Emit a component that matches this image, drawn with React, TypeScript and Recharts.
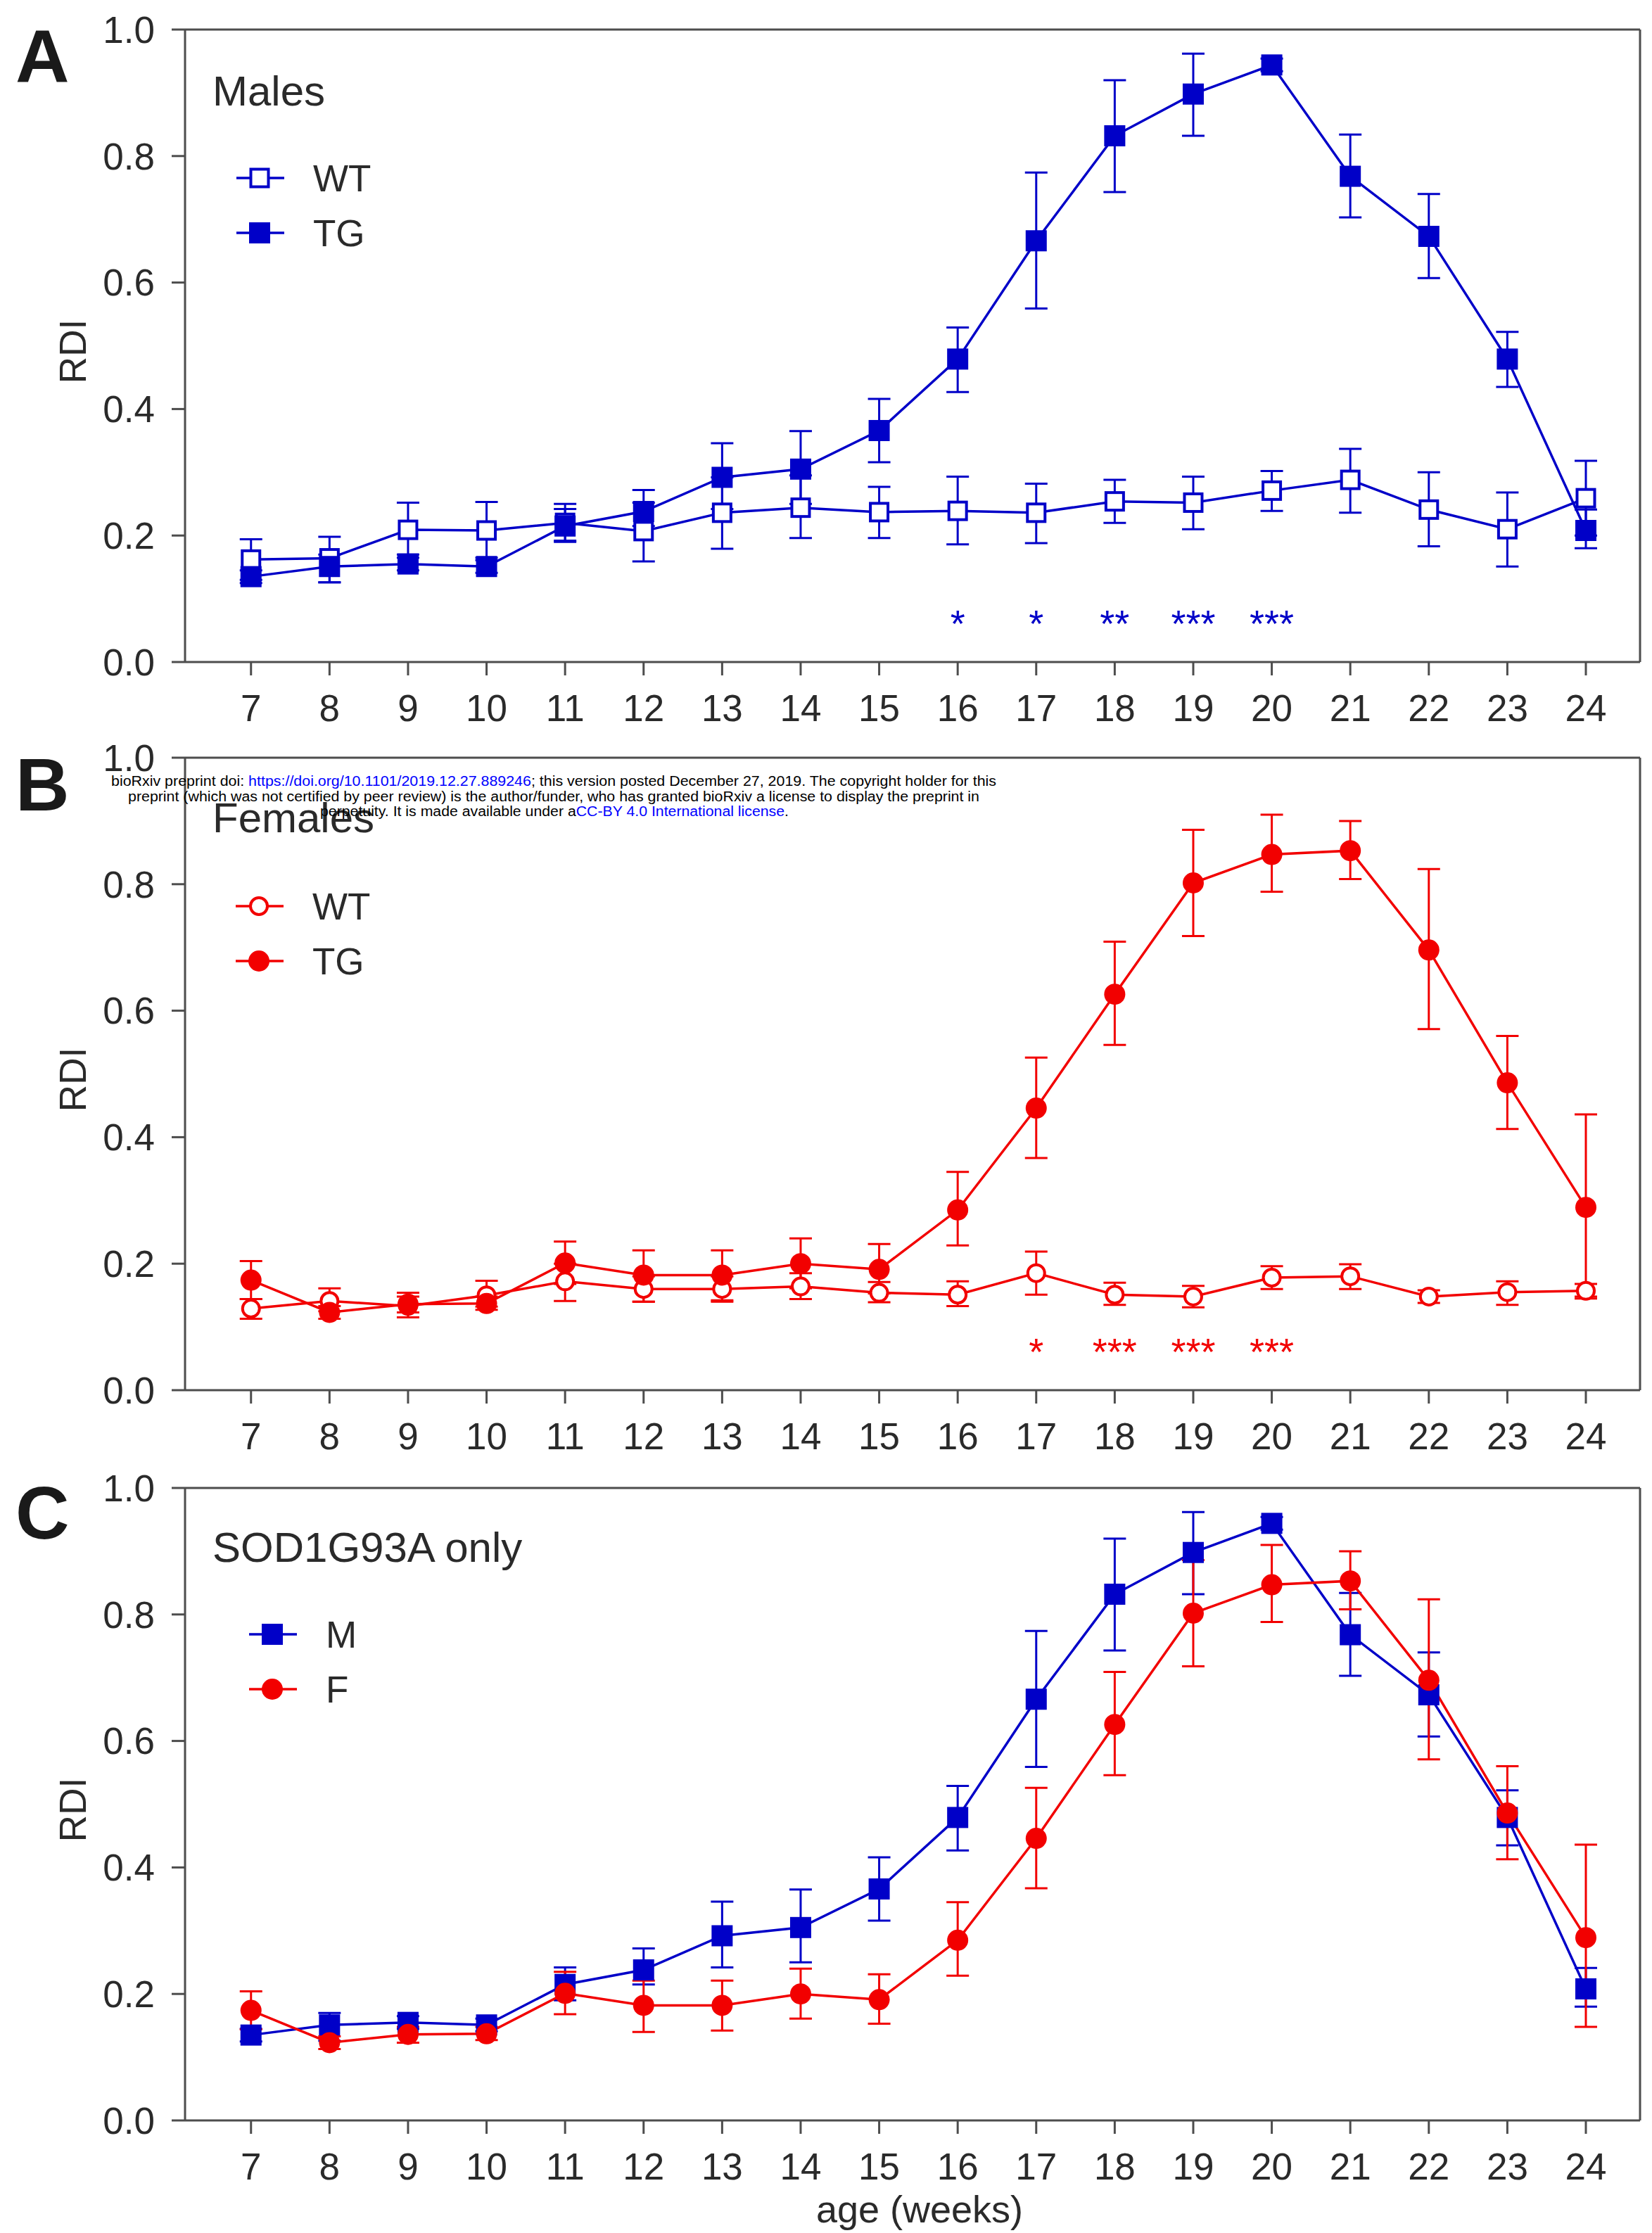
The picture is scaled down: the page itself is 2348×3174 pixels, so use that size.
import React from 'react';
import { ComposedChart, Line, Scatter, XAxis, YAxis, ErrorBar, ReferenceLine, Legend, Label } from 'recharts';

const BLUE = '#0000c8';
const RED = '#f20000';
const AXIS = '#4d4d4d';
const INK = '#2a2a2a';
const FONT = '"Liberation Sans", Arial, Helvetica, sans-serif';

const weeks = [7, 8, 9, 10, 11, 12, 13, 14, 15, 16, 17, 18, 19, 20, 21, 22, 23, 24];
const yTicks = [0, 0.2, 0.4, 0.6, 0.8, 1.0];

// males
const maleWT = [0.162, 0.164, 0.209, 0.208, 0.220, 0.207, 0.236, 0.244, 0.237, 0.239, 0.236, 0.254, 0.252, 0.271, 0.288, 0.241, 0.210, 0.259];
const maleWTLow = [0.130, 0.126, 0.170, 0.165, 0.192, 0.159, 0.179, 0.196, 0.196, 0.186, 0.188, 0.220, 0.210, 0.239, 0.236, 0.183, 0.151, 0.200];
const maleWTHigh = [0.194, 0.198, 0.252, 0.253, 0.250, 0.252, 0.292, 0.295, 0.277, 0.293, 0.282, 0.288, 0.293, 0.302, 0.337, 0.300, 0.268, 0.318];
const maleTG = [0.135, 0.151, 0.155, 0.151, 0.215, 0.238, 0.292, 0.305, 0.366, 0.479, 0.666, 0.832, 0.898, 0.944, 0.768, 0.673, 0.479, 0.208];
const maleTGLow = [0.125, 0.126, 0.145, 0.141, 0.190, 0.215, 0.242, 0.250, 0.316, 0.427, 0.559, 0.743, 0.832, 0.934, 0.703, 0.607, 0.435, 0.180];
const maleTGHigh = [0.145, 0.170, 0.165, 0.161, 0.242, 0.272, 0.346, 0.365, 0.416, 0.529, 0.774, 0.920, 0.962, 0.954, 0.834, 0.740, 0.522, 0.241];

// females
const femaleWT = [0.129, 0.141, 0.133, 0.150, 0.172, 0.160, 0.160, 0.164, 0.154, 0.151, 0.185, 0.151, 0.148, 0.178, 0.180, 0.148, 0.155, 0.157];
const femaleWTLow = [0.113, 0.125, 0.115, 0.132, 0.141, 0.140, 0.140, 0.144, 0.139, 0.133, 0.151, 0.135, 0.131, 0.160, 0.160, 0.138, 0.135, 0.145];
const femaleWTHigh = [0.144, 0.161, 0.154, 0.173, 0.200, 0.180, 0.180, 0.185, 0.171, 0.172, 0.219, 0.170, 0.165, 0.196, 0.199, 0.158, 0.172, 0.168];
const femaleTG = [0.174, 0.123, 0.136, 0.137, 0.201, 0.182, 0.182, 0.200, 0.191, 0.285, 0.446, 0.626, 0.802, 0.847, 0.853, 0.696, 0.486, 0.289];
const femaleTGLow = [0.144, 0.113, 0.123, 0.127, 0.168, 0.140, 0.142, 0.161, 0.153, 0.229, 0.367, 0.546, 0.718, 0.788, 0.808, 0.571, 0.413, 0.148];
const femaleTGHigh = [0.204, 0.133, 0.148, 0.148, 0.235, 0.221, 0.221, 0.240, 0.231, 0.345, 0.526, 0.709, 0.886, 0.910, 0.900, 0.824, 0.560, 0.436];

// significance marks
const starWeeksA = [16, 17, 18, 19, 20];
const starTextA = ['*', '*', '**', '***', '***'];
const starWeeksB = [17, 18, 19, 20];
const starTextB = ['*', '***', '***', '***'];
const STAR_LEVEL = 0.075;

const X_DOMAIN: [number, number] = [6.16, 24.69];

type Kind = 'sqOpen' | 'sqFill' | 'ciOpen' | 'ciFill';

const Marker = ({ cx, cy, kind, color }: { cx?: number; cy?: number; kind: Kind; color: string }) => {
  if (cx == null || cy == null) return null;
  if (kind === 'sqOpen') return <rect x={cx - 12.5} y={cy - 12.5} width={25} height={25} fill="#fff" stroke={color} strokeWidth={4} />;
  if (kind === 'sqFill') return <rect x={cx - 15} y={cy - 15} width={30} height={30} fill={color} />;
  if (kind === 'ciOpen') return <circle cx={cx} cy={cy} r={12} fill="#fff" stroke={color} strokeWidth={4} />;
  return <circle cx={cx} cy={cy} r={15} fill={color} />;
};

const errs = (v: number[], lo: number[], hi: number[]) =>
  v.map((y, i) => [+(y - lo[i]).toFixed(3), +(hi[i] - y).toFixed(3)]);

function buildRows(a: number[], aLo: number[], aHi: number[], b: number[], bLo: number[], bHi: number[]) {
  const ea = errs(a, aLo, aHi);
  const eb = errs(b, bLo, bHi);
  return weeks.map((w, i) => ({ week: w, a: a[i], aErr: ea[i], b: b[i], bErr: eb[i] }));
}

const starRows = (ws: number[], txt: string[]) => ws.map((w, i) => ({ week: w, level: STAR_LEVEL, s: txt[i] }));

interface SeriesCfg { key: 'a' | 'b'; name: string; kind: Kind; color: string }

interface PanelCfg {
  top: number;
  height: number;
  xAxisHeight: number;
  rows: any[];
  series: SeriesCfg[];
  stars?: { week: number; level: number; s: string }[];
  starColor?: string;
  legendLeft: number;
  legendTop: number;
  xLabel?: boolean;
}

const panels: PanelCfg[] = [
  {
    top: 0, height: 1060, xAxisHeight: 119,
    rows: buildRows(maleWT, maleWTLow, maleWTHigh, maleTG, maleTGLow, maleTGHigh),
    series: [
      { key: 'a', name: 'WT', kind: 'sqOpen', color: BLUE },
      { key: 'b', name: 'TG', kind: 'sqFill', color: BLUE },
    ],
    stars: starRows(starWeeksA, starTextA), starColor: BLUE,
    legendLeft: 336, legendTop: 214,
  },
  {
    top: 1035, height: 1060, xAxisHeight: 119,
    rows: buildRows(femaleWT, femaleWTLow, femaleWTHigh, femaleTG, femaleTGLow, femaleTGHigh),
    series: [
      { key: 'a', name: 'WT', kind: 'ciOpen', color: RED },
      { key: 'b', name: 'TG', kind: 'ciFill', color: RED },
    ],
    stars: starRows(starWeeksB, starTextB), starColor: RED,
    legendLeft: 335, legendTop: 214,
  },
  {
    top: 2073, height: 1101, xAxisHeight: 160,
    rows: buildRows(maleTG, maleTGLow, maleTGHigh, femaleTG, femaleTGLow, femaleTGHigh),
    series: [
      { key: 'a', name: 'M', kind: 'sqFill', color: BLUE },
      { key: 'b', name: 'F', kind: 'ciFill', color: RED },
    ],
    legendLeft: 354, legendTop: 211,
    xLabel: true,
  },
];

const LegendBox = ({ series }: { series: SeriesCfg[] }) => (
  <div>
    {series.map((s) => (
      <div key={s.name} style={{ display: 'flex', alignItems: 'center', height: 78 }}>
        <svg width={68} height={40} style={{ display: 'block' }}>
          <line x1={0} x2={68} y1={20} y2={20} stroke={s.color} strokeWidth={3.5} />
          <Marker cx={33} cy={20} kind={s.kind} color={s.color} />
        </svg>
        <span style={{ marginLeft: 41, fontSize: 53, fontFamily: FONT, color: INK, lineHeight: 1 }}>{s.name}</span>
      </div>
    ))}
  </div>
);

const tickStyle = { fill: INK, fontSize: 53, fontFamily: FONT };

function Panel({ cfg }: { cfg: PanelCfg }) {
  return (
    <div style={{ position: 'absolute', left: 0, top: cfg.top, width: 2348, height: cfg.height }}>
      <ComposedChart width={2348} height={cfg.height} data={cfg.rows} margin={{ top: 42, right: 17, left: 0, bottom: 0 }}>
        <XAxis
          dataKey="week" type="number" domain={X_DOMAIN} ticks={weeks} allowDataOverflow
          height={cfg.xAxisHeight} tickSize={19} tickMargin={27} interval={0}
          axisLine={{ stroke: AXIS, strokeWidth: 3 }} tickLine={{ stroke: AXIS, strokeWidth: 3 }} tick={tickStyle}
        >
          {cfg.xLabel && (
            <Label
              content={({ viewBox }: any) => (
                <text x={1307} y={viewBox.y + 145} textAnchor="middle" fontSize={54} fontFamily={FONT} fill={INK}>age (weeks)</text>
              )}
            />
          )}
        </XAxis>
        <YAxis
          type="number" domain={[0, 1]} ticks={yTicks} allowDataOverflow width={263}
          tickSize={19} tickMargin={24} tickFormatter={(v: number) => v.toFixed(1)}
          axisLine={{ stroke: AXIS, strokeWidth: 3 }} tickLine={{ stroke: AXIS, strokeWidth: 3 }} tick={tickStyle}
        >
          <Label
            content={({ viewBox }: any) => {
              const cy = viewBox.y + viewBox.height / 2 + 8;
              return (
                <text x={103} y={cy} dy="0.36em" textAnchor="middle" transform={`rotate(-90, 103, ${cy})`} fontSize={53} fontFamily={FONT} fill={INK}>RDI</text>
              );
            }}
          />
        </YAxis>
        <ReferenceLine y={1} stroke={AXIS} strokeWidth={3} />
        <ReferenceLine x={X_DOMAIN[1]} stroke={AXIS} strokeWidth={3} />
        {cfg.series.map((s) => (
          <Line
            key={s.key}
            dataKey={s.key}
            name={s.name}
            type="linear"
            stroke={s.color}
            strokeWidth={3.5}
            isAnimationActive={false}
            activeDot={false}
            dot={(p: any) => <Marker key={`${s.key}-${p.index}`} cx={p.cx} cy={p.cy} kind={s.kind} color={s.color} />}
          >
            <ErrorBar dataKey={`${s.key}Err`} direction="y" width={16} stroke={s.color} strokeWidth={3} isAnimationActive={false} />
          </Line>
        ))}
        {cfg.stars && (
          <Scatter
            data={cfg.stars}
            dataKey="level"
            legendType="none"
            isAnimationActive={false}
            shape={(p: any) => (
              <text x={p.cx} y={p.cy + 31} textAnchor="middle" fontSize={54} fontFamily={FONT} fill={cfg.starColor}>{p.payload.s}</text>
            )}
          />
        )}
        <Legend
          layout="horizontal" verticalAlign="middle" align="center"
          wrapperStyle={{ position: 'absolute', left: cfg.legendLeft, top: cfg.legendTop, width: 400, height: 160 }}
          content={() => <LegendBox series={cfg.series} />}
        />
      </ComposedChart>
    </div>
  );
}

const letters = [
  { t: 'A', y: 117 },
  { t: 'B', y: 1152 },
  { t: 'C', y: 2187 },
];
const titles = [
  { t: 'Males', y: 150 },
  { t: 'Females', y: 1183 },
  { t: 'SOD1G93A only', y: 2220 },
];

export default function App() {
  return (
    <div style={{ position: 'absolute', left: 0, top: 0, width: 2348, height: 3174, background: '#fff', overflow: 'hidden' }}>
      {panels.map((p, i) => <Panel key={i} cfg={p} />)}
      <svg width={2348} height={3174} style={{ position: 'absolute', left: 0, top: 0, pointerEvents: 'none' }}>
        {letters.map((l) => (
          <text key={l.t} x={22} y={l.y} fontSize={106} fontWeight="bold" fontFamily={FONT} fill="#1a1a1a">{l.t}</text>
        ))}
        {titles.map((l) => (
          <text key={l.t} x={302} y={l.y} fontSize={60} fontFamily={FONT} fill={INK}>{l.t}</text>
        ))}
        <g fontFamily={FONT} fontSize={20} fill="#000">
          <text x={158} y={1117} textLength={1258} lengthAdjust="spacingAndGlyphs">
            bioRxiv preprint doi: <tspan fill="#0000ff">https://doi.org/10.1101/2019.12.27.889246</tspan>; this version posted December 27, 2019. The copyright holder for this
          </text>
          <text x={182} y={1139} textLength={1210} lengthAdjust="spacingAndGlyphs">
            preprint (which was not certified by peer review) is the author/funder, who has granted bioRxiv a license to display the preprint in
          </text>
          <text x={455} y={1160} textLength={666} lengthAdjust="spacingAndGlyphs">
            perpetuity. It is made available under a<tspan fill="#0000ff">CC-BY 4.0 International license</tspan>.
          </text>
        </g>
      </svg>
    </div>
  );
}
